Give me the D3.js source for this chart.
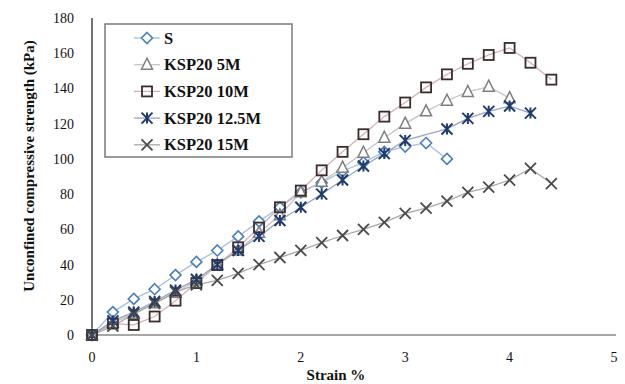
<!DOCTYPE html>
<html>
<head>
<meta charset="utf-8">
<script src="https://cdn.jsdelivr.net/npm/d3@7"></script>
<style>
  body { margin: 0; background: #fff; }
  svg { display: block; }
  text { font-family: "Liberation Serif", "Times New Roman", serif; fill: #111; }
</style>
</head>
<body>
<svg id="chart" width="625" height="384"></svg>
<script>
// Datos
const strain = [0, 0.2, 0.4, 0.6, 0.8, 1.0, 1.2, 1.4, 1.6, 1.8, 2.0, 2.2, 2.4, 2.6, 2.8, 3.0, 3.2, 3.4, 3.6, 3.8, 4.0, 4.2, 4.4];

const seriesNames = ['S', 'KSP20 5M', 'KSP20 10M', 'KSP20 12.5M', 'KSP20 15M'];

const valuesS    = [0, 13, 20.5, 26, 34, 41.5, 48, 56, 64.5, 72.5, 81, 86.5, 93, 98, 104, 107, 109, 100];
const values5M   = [0, 7, 12, 18, 24, 31, 40, 48, 58, 68, 81, 87, 95, 103.5, 112, 120, 127, 133, 138, 141, 134.5];
const values10M  = [0, 6.5, 5.7, 10.5, 19.5, 29.5, 39.7, 49.8, 61, 72.5, 82, 93.5, 104, 114, 124, 132, 140.6, 148, 154, 159, 163, 154.6, 145];
const values125M = [0, 8, 13, 19, 25.5, 31.5, 40, 48, 56, 65, 72.5, 80, 88, 96, 103, 110.5, null, 117, 123, 127, 130, 126];
const values15M  = [0, 5, 12, 18, 24.5, 28.5, 31, 35, 40, 44, 48, 52.5, 56.5, 60, 64, 69, 72, 76, 81, 84, 88, 94.6, 86];

const xTicks = [0, 1, 2, 3, 4, 5];
const yTicks = [0, 20, 40, 60, 80, 100, 120, 140, 160, 180];

// Estilos por serie
const styles = [
  { marker: 'diamond',  stroke: '#4a7ebb', line: '#a9c0dc' },
  { marker: 'triangle', stroke: '#7f7f7f', line: '#c4c4c4' },
  { marker: 'square',   stroke: '#3a2b2e', line: '#d2b2b4' },
  { marker: 'asterisk', stroke: '#1f3a6e', line: '#9aa6b8' },
  { marker: 'cross',    stroke: '#4a4a4a', line: '#a8a8a8' }
];

const allValues = [valuesS, values5M, values10M, values125M, values15M];

const svg = d3.select('#chart');

const x = d3.scaleLinear().domain([0, 5]).range([92, 614]);
const y = d3.scaleLinear().domain([0, 180]).range([335, 18]);

// Ejes
svg.append('line')
  .attr('x1', 88).attr('x2', 616)
  .attr('y1', y(0)).attr('y2', y(0))
  .attr('stroke', '#8a8a8a').attr('stroke-width', 1.5);

svg.append('line')
  .attr('x1', x(0)).attr('x2', x(0))
  .attr('y1', y(180)).attr('y2', y(0))
  .attr('stroke', '#444').attr('stroke-width', 1.5);

svg.selectAll('.ytick')
  .data(yTicks)
  .enter().append('text')
  .attr('x', 74)
  .attr('y', d => y(d) + 5)
  .attr('text-anchor', 'end')
  .attr('font-size', 14)
  .text(d => d);

svg.selectAll('.xtick')
  .data(xTicks)
  .enter().append('text')
  .attr('x', d => x(d))
  .attr('y', 362)
  .attr('text-anchor', 'middle')
  .attr('font-size', 14)
  .text(d => d);

svg.append('text')
  .attr('x', 336).attr('y', 380)
  .attr('text-anchor', 'middle')
  .attr('font-size', 15).attr('font-weight', 'bold')
  .text('Strain %');

svg.append('text')
  .attr('transform', 'translate(34,166) rotate(-90)')
  .attr('text-anchor', 'middle')
  .attr('font-size', 15).attr('font-weight', 'bold')
  .text('Unconfined compressive strength (kPa)');

// Dibujar un marcador
function drawMarker(g, type, color) {
  const s = 5.5;
  if (type === 'diamond') {
    g.append('path').attr('d', `M0,${-s}L${s},0L0,${s}L${-s},0Z`)
      .attr('fill', '#fff').attr('stroke', color).attr('stroke-width', 1.6);
  } else if (type === 'triangle') {
    g.append('path').attr('d', `M0,${-s - 1}L${s},${s - 1}L${-s},${s - 1}Z`)
      .attr('fill', '#fff').attr('stroke', color).attr('stroke-width', 1.5);
  } else if (type === 'square') {
    g.append('rect').attr('x', -s + 0.5).attr('y', -s + 0.5)
      .attr('width', 2 * s - 1).attr('height', 2 * s - 1)
      .attr('fill', 'none').attr('stroke', color).attr('stroke-width', 1.8);
  } else if (type === 'asterisk') {
    g.append('path').attr('d', `M${-s},${-s}L${s},${s}M${-s},${s}L${s},${-s}M0,${-s}L0,${s}`)
      .attr('stroke', color).attr('stroke-width', 2);
  } else if (type === 'cross') {
    g.append('path').attr('d', `M${-s},${-s}L${s},${s}M${-s},${s}L${s},${-s}`)
      .attr('stroke', color).attr('stroke-width', 1.8);
  }
}

const line = d3.line()
  .x(d => x(d[0]))
  .y(d => y(d[1]));

// Series: primero las líneas, luego los marcadores
const seriesData = allValues.map(vals =>
  vals.map((v, i) => [strain[i], v]).filter(d => d[1] !== null));

seriesData.forEach((pts, k) => {
  svg.append('path')
    .datum(pts)
    .attr('fill', 'none')
    .attr('stroke', styles[k].line)
    .attr('stroke-width', 1.3)
    .attr('d', line);
});

seriesData.forEach((pts, k) => {
  pts.forEach(d => {
    const g = svg.append('g').attr('transform', `translate(${x(d[0])},${y(d[1])})`);
    drawMarker(g, styles[k].marker, styles[k].stroke);
  });
});

// Leyenda
const legend = svg.append('g');
legend.append('rect')
  .attr('x', 105).attr('y', 24)
  .attr('width', 187).attr('height', 133)
  .attr('fill', '#fff').attr('stroke', '#666').attr('stroke-width', 1.3);

seriesNames.forEach((name, k) => {
  const ly = 38 + k * 26.7;
  legend.append('line')
    .attr('x1', 134).attr('x2', 160)
    .attr('y1', ly).attr('y2', ly)
    .attr('stroke', styles[k].line).attr('stroke-width', 1.3);
  drawMarker(legend.append('g').attr('transform', `translate(147,${ly})`), styles[k].marker, styles[k].stroke);
  legend.append('text')
    .attr('x', 164).attr('y', ly + 5.5)
    .attr('font-size', 16.5).attr('font-weight', 'bold')
    .text(name);
});
</script>
</body>
</html>
